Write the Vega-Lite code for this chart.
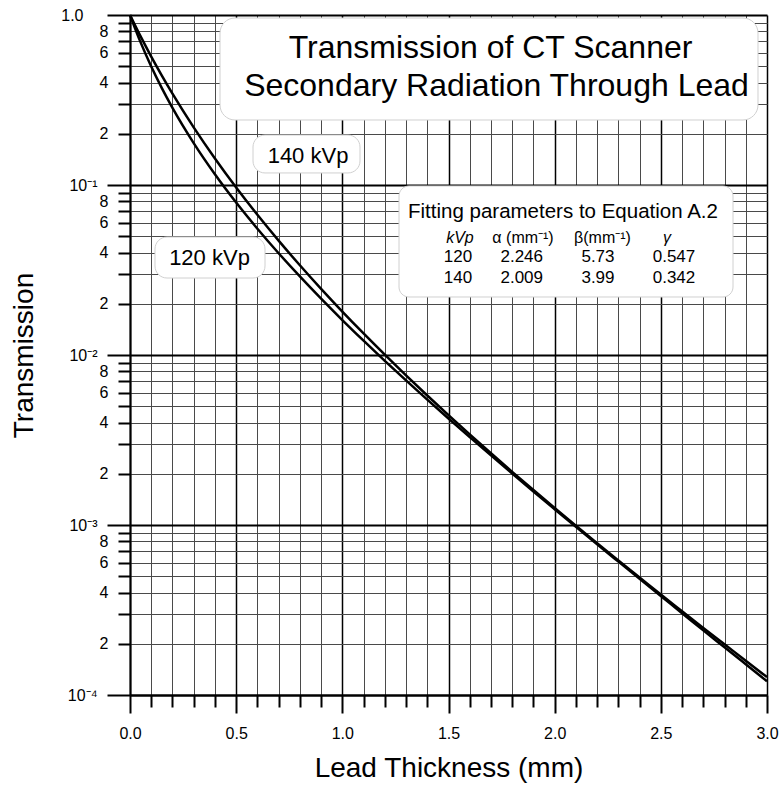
{
  "$schema": "https://vega.github.io/schema/vega-lite/v6.json",
  "width": 637,
  "height": 680,
  "autosize": {"type": "none"},
  "padding": {"left": 130, "top": 15, "right": 17, "bottom": 96},
  "background": "white",
  "config": {"view": {"stroke": null}, "font": "Liberation Sans", "text": {"font": "Liberation Sans", "color": "black"}},
  "resolve": {"axis": {"x": "independent", "y": "independent"}},
  "datasets": {
    "curves": [
      {"kVp": "120", "x": 0, "T": 1},
      {"kVp": "120", "x": 0.05, "T": 0.6900},
      {"kVp": "120", "x": 0.1, "T": 0.4980},
      {"kVp": "120", "x": 0.15, "T": 0.3716},
      {"kVp": "120", "x": 0.2, "T": 0.2844},
      {"kVp": "120", "x": 0.3, "T": 0.1765},
      {"kVp": "120", "x": 0.4, "T": 0.1157},
      {"kVp": "120", "x": 0.5, "T": 0.07884},
      {"kVp": "120", "x": 0.6, "T": 0.05534},
      {"kVp": "120", "x": 0.7, "T": 0.03969},
      {"kVp": "120", "x": 0.8, "T": 0.02898},
      {"kVp": "120", "x": 0.9, "T": 0.02145},
      {"kVp": "120", "x": 1.0, "T": 0.01606},
      {"kVp": "120", "x": 1.1, "T": 0.01214},
      {"kVp": "120", "x": 1.2, "T": 0.009245},
      {"kVp": "120", "x": 1.3, "T": 0.007085},
      {"kVp": "120", "x": 1.4, "T": 0.005461},
      {"kVp": "120", "x": 1.5, "T": 0.004229},
      {"kVp": "120", "x": 1.6, "T": 0.003288},
      {"kVp": "120", "x": 1.7, "T": 0.002566},
      {"kVp": "120", "x": 1.8, "T": 0.002008},
      {"kVp": "120", "x": 1.9, "T": 0.001575},
      {"kVp": "120", "x": 2.0, "T": 0.001239},
      {"kVp": "120", "x": 2.1, "T": 0.000976},
      {"kVp": "120", "x": 2.2, "T": 0.000770},
      {"kVp": "120", "x": 2.3, "T": 0.000609},
      {"kVp": "120", "x": 2.4, "T": 0.000482},
      {"kVp": "120", "x": 2.5, "T": 0.000382},
      {"kVp": "120", "x": 2.6, "T": 0.000303},
      {"kVp": "120", "x": 2.7, "T": 0.000240},
      {"kVp": "120", "x": 2.8, "T": 0.0001909},
      {"kVp": "120", "x": 2.9, "T": 0.0001517},
      {"kVp": "120", "x": 3.0, "T": 0.0001205},
      {"kVp": "140", "x": 0, "T": 1},
      {"kVp": "140", "x": 0.05, "T": 0.7480},
      {"kVp": "140", "x": 0.1, "T": 0.5694},
      {"kVp": "140", "x": 0.15, "T": 0.4400},
      {"kVp": "140", "x": 0.2, "T": 0.3444},
      {"kVp": "140", "x": 0.3, "T": 0.2181},
      {"kVp": "140", "x": 0.4, "T": 0.1431},
      {"kVp": "140", "x": 0.5, "T": 0.09661},
      {"kVp": "140", "x": 0.6, "T": 0.06676},
      {"kVp": "140", "x": 0.7, "T": 0.04706},
      {"kVp": "140", "x": 0.8, "T": 0.03372},
      {"kVp": "140", "x": 0.9, "T": 0.02450},
      {"kVp": "140", "x": 1.0, "T": 0.01802},
      {"kVp": "140", "x": 1.1, "T": 0.01339},
      {"kVp": "140", "x": 1.2, "T": 0.01004},
      {"kVp": "140", "x": 1.3, "T": 0.007588},
      {"kVp": "140", "x": 1.4, "T": 0.005777},
      {"kVp": "140", "x": 1.5, "T": 0.004427},
      {"kVp": "140", "x": 1.6, "T": 0.003411},
      {"kVp": "140", "x": 1.7, "T": 0.002641},
      {"kVp": "140", "x": 1.8, "T": 0.002055},
      {"kVp": "140", "x": 1.9, "T": 0.001605},
      {"kVp": "140", "x": 2.0, "T": 0.001259},
      {"kVp": "140", "x": 2.1, "T": 0.000990},
      {"kVp": "140", "x": 2.2, "T": 0.000781},
      {"kVp": "140", "x": 2.3, "T": 0.000618},
      {"kVp": "140", "x": 2.4, "T": 0.000491},
      {"kVp": "140", "x": 2.5, "T": 0.000390},
      {"kVp": "140", "x": 2.6, "T": 0.000311},
      {"kVp": "140", "x": 2.7, "T": 0.000248},
      {"kVp": "140", "x": 2.8, "T": 0.0001987},
      {"kVp": "140", "x": 2.9, "T": 0.0001592},
      {"kVp": "140", "x": 3.0, "T": 0.0001274}
    ],
    "params": [
      {"kVp": 120, "alpha": 2.246, "beta": 5.73, "gamma": 0.547},
      {"kVp": 140, "alpha": 2.009, "beta": 3.99, "gamma": 0.342}
    ]
  },
  "layer": [
    {
      "data": {"name": "curves"},
      "mark": {"type": "line", "color": "black", "strokeWidth": 2.5, "interpolate": "monotone"},
      "encoding": {
        "x": {
          "field": "x", "type": "quantitative",
          "scale": {"domain": [0, 3], "nice": false, "zero": false},
          "axis": {
            "values": [0,0.1,0.2,0.3,0.4,0.5,0.6,0.7,0.8,0.9,1,1.1,1.2,1.3,1.4,1.5,1.6,1.7,1.8,1.9,2,2.1,2.2,2.3,2.4,2.5,2.6,2.7,2.8,2.9,3],
            "title": "Lead Thickness (mm)",
            "titleFont": "Liberation Sans", "titleFontSize": 28, "titleFontWeight": "normal", "titleColor": "black", "titlePadding": 13,
            "labelExpr": "abs(datum.value*2-round(datum.value*2))<0.001 ? format(datum.value,'.1f') : ''",
            "labelFont": "Liberation Sans", "labelFontSize": 16, "labelColor": "black", "labelPadding": 12,
            "labelOverlap": false, "labelFlush": false,
            "tickSize": {"condition": {"test": "abs(datum.value*2-round(datum.value*2))<0.001", "value": 18}, "value": 12},
            "tickWidth": 2, "tickColor": "black",
            "domainColor": "black", "domainWidth": 2,
            "grid": true,
            "gridColor": {"condition": {"test": "abs(datum.value*2-round(datum.value*2))<0.001", "value": "#000000"}, "value": "#4a4a4a"},
            "gridWidth": {"condition": {"test": "abs(datum.value*2-round(datum.value*2))<0.001", "value": 1.5}, "value": 1}
          }
        },
        "y": {
          "field": "T", "type": "quantitative",
          "scale": {"type": "log", "domain": [0.0001, 1], "nice": false},
          "axis": {
            "values": [0.0001,0.0002,0.0003,0.0004,0.0005,0.0006,0.0007,0.0008,0.0009,0.001,0.002,0.003,0.004,0.005,0.006,0.007,0.008,0.009,0.01,0.02,0.03,0.04,0.05,0.06,0.07,0.08,0.09,0.1,0.2,0.3,0.4,0.5,0.6,0.7,0.8,0.9,1],
            "title": "Transmission",
            "titleFont": "Liberation Sans", "titleFontSize": 28, "titleFontWeight": "normal", "titleColor": "black", "titlePadding": 22,
            "labelExpr": "round(datum.value/pow(10,floor(log(datum.value)/LN10+1e-6)))==1 ? ['10⁻⁴','10⁻³','10⁻²','10⁻¹','1.0'][round(log(datum.value)/LN10)+4] : (round(datum.value/pow(10,floor(log(datum.value)/LN10+1e-6)))%2==0 ? ''+round(datum.value/pow(10,floor(log(datum.value)/LN10+1e-6))) : '')",
            "labelFont": "Liberation Sans", "labelFontSize": 16, "labelColor": "black",
            "labelPadding": {"condition": {"test": "datum.value==1", "value": 24}, "value": 10},
            "labelOverlap": false, "labelFlush": false, "labelBaseline": "middle",
            "tickSize": {"condition": {"test": "round(datum.value/pow(10,floor(log(datum.value)/LN10+1e-6)))==1", "value": 23}, "value": 12},
            "tickWidth": 2, "tickColor": "black",
            "domainColor": "black", "domainWidth": 2,
            "grid": true,
            "gridColor": {"condition": {"test": "round(datum.value/pow(10,floor(log(datum.value)/LN10+1e-6)))==1", "value": "#000000"}, "value": "#4a4a4a"},
            "gridWidth": {"condition": {"test": "round(datum.value/pow(10,floor(log(datum.value)/LN10+1e-6)))==1", "value": 2}, "value": 1}
          }
        },
        "detail": {"field": "kVp", "type": "nominal"}
      }
    },
    {
      "data": {"values": [{}]},
      "mark": {"type": "rect", "fill": "white", "stroke": "#d0d0d0", "strokeWidth": 1, "cornerRadius": 15},
      "encoding": {
        "x": {"datum": 0.4239, "type": "quantitative", "axis": null},
        "x2": {"datum": 2.9576},
        "y": {"datum": 0.9602, "type": "quantitative", "axis": null},
        "y2": {"datum": 0.2412}
      }
    },
    {
      "data": {"values": [{}]},
      "mark": {"type": "rect", "fill": "white", "stroke": "#d0d0d0", "strokeWidth": 1, "cornerRadius": 12},
      "encoding": {
        "x": {"datum": 0.5793, "type": "quantitative", "axis": null},
        "x2": {"datum": 1.0832},
        "y": {"datum": 0.1968, "type": "quantitative", "axis": null},
        "y2": {"datum": 0.1177}
      }
    },
    {
      "data": {"values": [{}]},
      "mark": {"type": "rect", "fill": "white", "stroke": "#d0d0d0", "strokeWidth": 1, "cornerRadius": 12},
      "encoding": {
        "x": {"datum": 0.1177, "type": "quantitative", "axis": null},
        "x2": {"datum": 0.6358},
        "y": {"datum": 0.04944, "type": "quantitative", "axis": null},
        "y2": {"datum": 0.02837}
      }
    },
    {
      "data": {"values": [{}]},
      "mark": {"type": "rect", "fill": "white", "stroke": "#d0d0d0", "strokeWidth": 1, "cornerRadius": 10},
      "encoding": {
        "x": {"datum": 1.2669, "type": "quantitative", "axis": null},
        "x2": {"datum": 2.8399},
        "y": {"datum": 0.09866, "type": "quantitative", "axis": null},
        "y2": {"datum": 0.02194}
      }
    },
    {
      "data": {"values": [{}]},
      "mark": {"type": "text", "text": "Transmission of CT Scanner", "fontSize": 32, "align": "center", "baseline": "middle"},
      "encoding": {
        "x": {"datum": 1.698, "type": "quantitative", "axis": null},
        "y": {"datum": 0.6439, "type": "quantitative", "axis": null}
      }
    },
    {
      "data": {"values": [{}]},
      "mark": {"type": "text", "text": "Secondary Radiation Through Lead", "fontSize": 32, "align": "center", "baseline": "middle"},
      "encoding": {
        "x": {"datum": 1.726, "type": "quantitative", "axis": null},
        "y": {"datum": 0.3823, "type": "quantitative", "axis": null}
      }
    },
    {
      "data": {"values": [{}]},
      "mark": {"type": "text", "text": "140 kVp", "fontSize": 22, "align": "center", "baseline": "middle"},
      "encoding": {
        "x": {"datum": 0.8383, "type": "quantitative", "axis": null},
        "y": {"datum": 0.1482, "type": "quantitative", "axis": null}
      }
    },
    {
      "data": {"values": [{}]},
      "mark": {"type": "text", "text": "120 kVp", "fontSize": 22, "align": "center", "baseline": "middle"},
      "encoding": {
        "x": {"datum": 0.3744, "type": "quantitative", "axis": null},
        "y": {"datum": 0.03721, "type": "quantitative", "axis": null}
      }
    },
    {
      "data": {"values": [{}]},
      "mark": {"type": "text", "text": "Fitting parameters to Equation A.2", "fontSize": 20.5, "align": "center", "baseline": "middle"},
      "encoding": {
        "x": {"datum": 2.039, "type": "quantitative", "axis": null},
        "y": {"datum": 0.06938, "type": "quantitative", "axis": null}
      }
    },
    {
      "data": {"values": [{}]},
      "mark": {"type": "text", "text": "kVp", "fontSize": 16, "fontStyle": "italic", "align": "center", "baseline": "middle"},
      "encoding": {
        "x": {"datum": 1.554, "type": "quantitative", "axis": null},
        "y": {"datum": 0.04878, "type": "quantitative", "axis": null}
      }
    },
    {
      "data": {"values": [{}]},
      "mark": {"type": "text", "text": "α (mm⁻¹)", "fontSize": 16, "align": "center", "baseline": "middle"},
      "encoding": {
        "x": {"datum": 1.851, "type": "quantitative", "axis": null},
        "y": {"datum": 0.04878, "type": "quantitative", "axis": null}
      }
    },
    {
      "data": {"values": [{}]},
      "mark": {"type": "text", "text": "β(mm⁻¹)", "fontSize": 16, "align": "center", "baseline": "middle"},
      "encoding": {
        "x": {"datum": 2.225, "type": "quantitative", "axis": null},
        "y": {"datum": 0.04878, "type": "quantitative", "axis": null}
      }
    },
    {
      "data": {"values": [{}]},
      "mark": {"type": "text", "text": "γ", "fontSize": 16, "fontStyle": "italic", "align": "center", "baseline": "middle"},
      "encoding": {
        "x": {"datum": 2.529, "type": "quantitative", "axis": null},
        "y": {"datum": 0.04878, "type": "quantitative", "axis": null}
      }
    },
    {
      "data": {"name": "params"},
      "transform": [{"filter": "datum.kVp == 120"}],
      "mark": {"type": "text", "fontSize": 17, "align": "center", "baseline": "middle"},
      "encoding": {
        "x": {"datum": 1.545, "type": "quantitative", "axis": null},
        "y": {"datum": 0.03772, "type": "quantitative", "axis": null},
        "text": {"field": "kVp", "type": "nominal"}
      }
    },
    {
      "data": {"name": "params"},
      "transform": [{"filter": "datum.kVp == 120"}],
      "mark": {"type": "text", "fontSize": 17, "align": "center", "baseline": "middle"},
      "encoding": {
        "x": {"datum": 1.845, "type": "quantitative", "axis": null},
        "y": {"datum": 0.03772, "type": "quantitative", "axis": null},
        "text": {"field": "alpha", "type": "quantitative", "format": ".3f"}
      }
    },
    {
      "data": {"name": "params"},
      "transform": [{"filter": "datum.kVp == 120"}],
      "mark": {"type": "text", "fontSize": 17, "align": "center", "baseline": "middle"},
      "encoding": {
        "x": {"datum": 2.204, "type": "quantitative", "axis": null},
        "y": {"datum": 0.03772, "type": "quantitative", "axis": null},
        "text": {"field": "beta", "type": "quantitative", "format": ".2f"}
      }
    },
    {
      "data": {"name": "params"},
      "transform": [{"filter": "datum.kVp == 120"}],
      "mark": {"type": "text", "fontSize": 17, "align": "center", "baseline": "middle"},
      "encoding": {
        "x": {"datum": 2.562, "type": "quantitative", "axis": null},
        "y": {"datum": 0.03772, "type": "quantitative", "axis": null},
        "text": {"field": "gamma", "type": "quantitative", "format": ".3f"}
      }
    },
    {
      "data": {"name": "params"},
      "transform": [{"filter": "datum.kVp == 140"}],
      "mark": {"type": "text", "fontSize": 17, "align": "center", "baseline": "middle"},
      "encoding": {
        "x": {"datum": 1.545, "type": "quantitative", "axis": null},
        "y": {"datum": 0.02837, "type": "quantitative", "axis": null},
        "text": {"field": "kVp", "type": "nominal"}
      }
    },
    {
      "data": {"name": "params"},
      "transform": [{"filter": "datum.kVp == 140"}],
      "mark": {"type": "text", "fontSize": 17, "align": "center", "baseline": "middle"},
      "encoding": {
        "x": {"datum": 1.845, "type": "quantitative", "axis": null},
        "y": {"datum": 0.02837, "type": "quantitative", "axis": null},
        "text": {"field": "alpha", "type": "quantitative", "format": ".3f"}
      }
    },
    {
      "data": {"name": "params"},
      "transform": [{"filter": "datum.kVp == 140"}],
      "mark": {"type": "text", "fontSize": 17, "align": "center", "baseline": "middle"},
      "encoding": {
        "x": {"datum": 2.204, "type": "quantitative", "axis": null},
        "y": {"datum": 0.02837, "type": "quantitative", "axis": null},
        "text": {"field": "beta", "type": "quantitative", "format": ".2f"}
      }
    },
    {
      "data": {"name": "params"},
      "transform": [{"filter": "datum.kVp == 140"}],
      "mark": {"type": "text", "fontSize": 17, "align": "center", "baseline": "middle"},
      "encoding": {
        "x": {"datum": 2.562, "type": "quantitative", "axis": null},
        "y": {"datum": 0.02837, "type": "quantitative", "axis": null},
        "text": {"field": "gamma", "type": "quantitative", "format": ".3f"}
      }
    }
  ]
}
